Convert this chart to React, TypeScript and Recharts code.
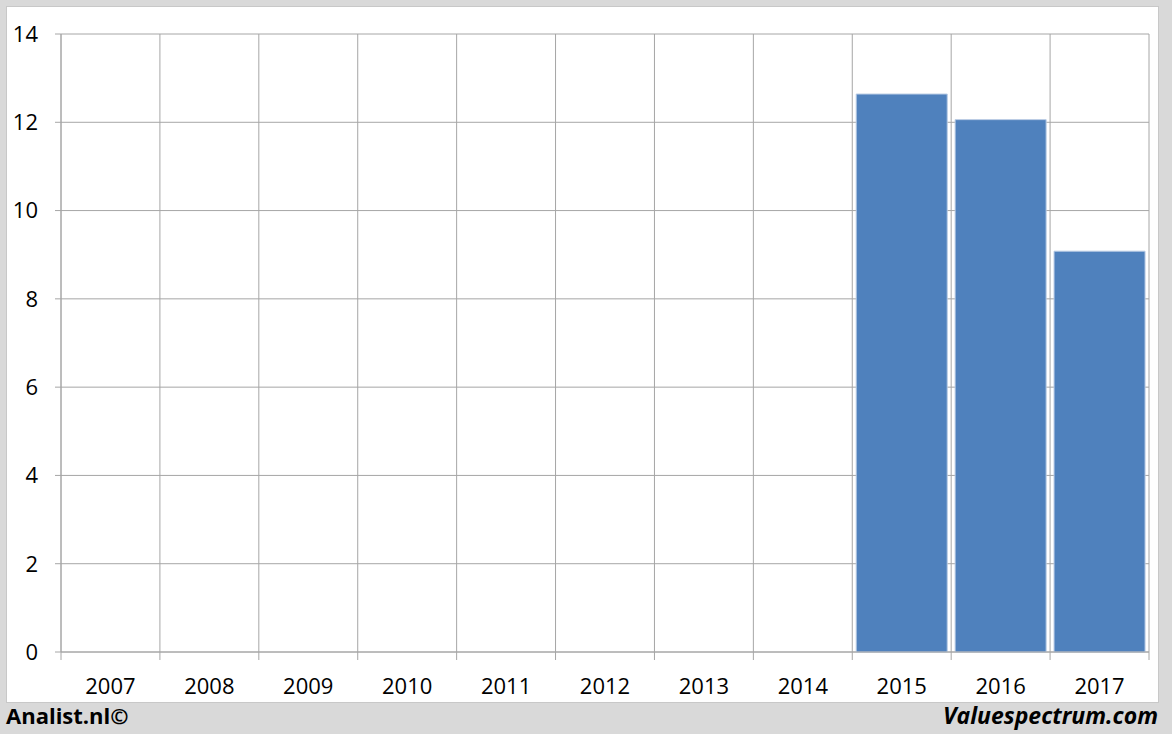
import { BarChart, Bar, XAxis, YAxis, CartesianGrid } from "recharts";

const YEARS = ["2007", "2008", "2009", "2010", "2011", "2012", "2013", "2014", "2015", "2016", "2017"];
const VALUES: (number | null)[] = [null, null, null, null, null, null, null, null, 12.64, 12.06, 9.08];
const Y_TICKS = [0, 2, 4, 6, 8, 10, 12, 14];
const BOUNDARIES = YEARS.map((_, i) => i).concat(YEARS.length);

const data = YEARS.map((year, i) => ({ year, slot: i + 0.5, value: VALUES[i] }));

const FONT = "'Open Sans', sans-serif";
const GRID = "#a6a6a6";

export default function App() {
  return (
    <div
      style={{
        position: "absolute",
        left: 0,
        top: 0,
        width: 1172,
        height: 734,
        background: "#d9d9d9",
        fontFamily: FONT,
      }}
    >
      <div
        style={{
          position: "absolute",
          left: 7,
          top: 7,
          width: 1151,
          height: 695,
          background: "#fff",
          boxShadow: "0 0 0 1px #c8c8c8",
        }}
      >
        <BarChart
          width={1151}
          height={695}
          data={data}
          margin={{ top: 27, right: 9, left: 0, bottom: 0 }}
          barCategoryGap="4%"
        >
          <XAxis
            xAxisId="b_cat"
            dataKey="year"
            height={49}
            tickSize={0}
            tickMargin={25}
            axisLine={false}
            tickLine={false}
            interval={0}
            tick={{ fill: "#000", fontSize: 22, fontFamily: FONT }}
          />
          <XAxis
            xAxisId="a_grid"
            type="number"
            dataKey="slot"
            domain={[0, YEARS.length]}
            ticks={BOUNDARIES}
            interval={0}
            height={1}
            tickSize={8}
            tickFormatter={() => ""}
            stroke={GRID}
          />
          <YAxis
            domain={[0, 14]}
            ticks={Y_TICKS}
            width={54}
            tickSize={6}
            tickMargin={17}
            stroke={GRID}
            tick={{ fill: "#000", fontSize: 22, fontFamily: FONT }}
          />
          <CartesianGrid xAxisId="a_grid" stroke={GRID} strokeWidth={1} />
          <Bar
            xAxisId="b_cat"
            dataKey="value"
            fill="#4f81bd"
            stroke="#b8cbe4"
            strokeWidth={1}
            isAnimationActive={false}
          />
        </BarChart>
      </div>
      <div
        style={{
          position: "absolute",
          left: 6,
          top: 700,
          fontSize: 22,
          fontWeight: 700,
          color: "#000",
        }}
      >
        Analist.nl©
      </div>
      <div
        style={{
          position: "absolute",
          right: 14,
          top: 699,
          fontSize: 23,
          fontWeight: 700,
          fontStyle: "italic",
          color: "#000",
        }}
      >
        Valuespectrum.com
      </div>
    </div>
  );
}
